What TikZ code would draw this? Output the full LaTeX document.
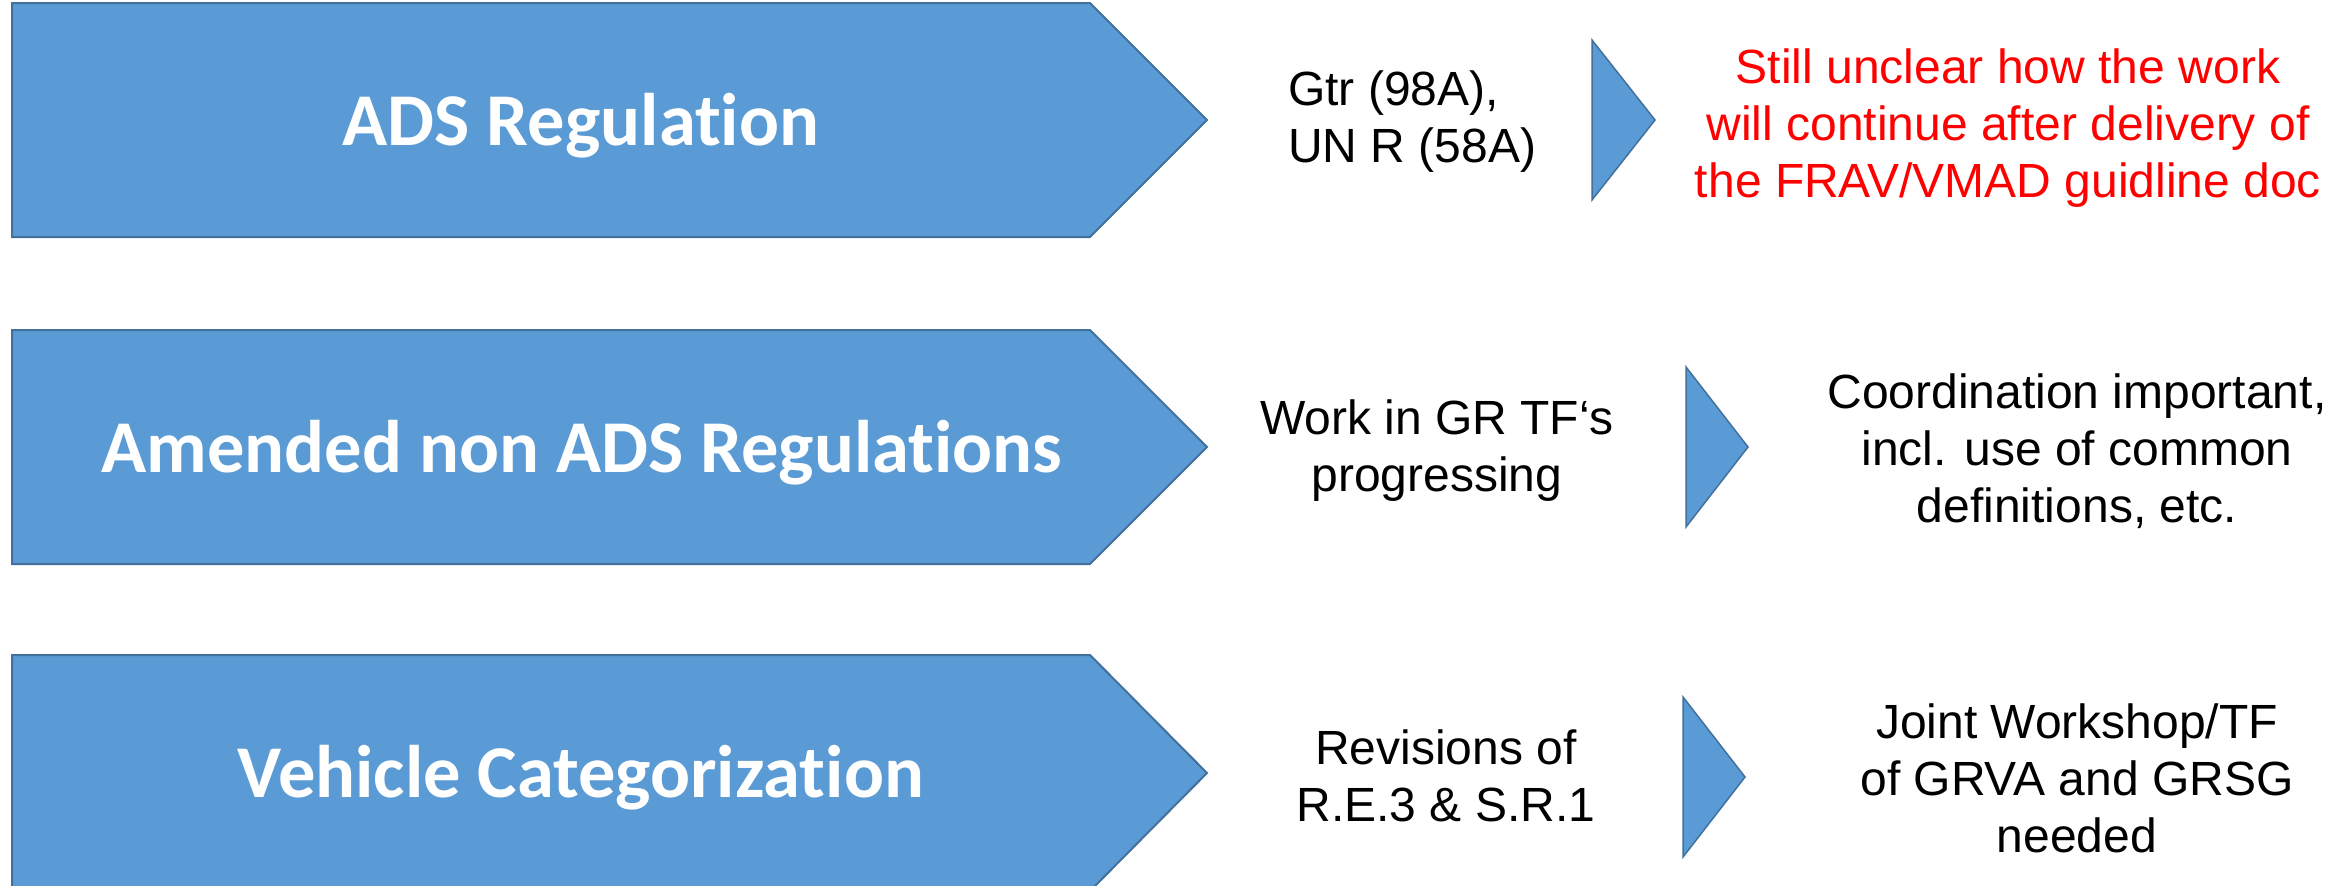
\documentclass[tikz,border=0pt]{standalone}
\usepackage{fontspec}
\setmainfont{Liberation Sans}
\newfontfamily\carlitofont[Ligatures={NoCommon,NoContextual,NoRare},Contextuals=NoAlternate]{Carlito}
\definecolor{boxblue}{HTML}{5B9BD5}
\definecolor{boxedge}{HTML}{41719C}
\definecolor{notered}{HTML}{FF0000}
\begin{document}
\begin{tikzpicture}[x=1pt,y=-1pt,
  bigarrow/.style={fill=boxblue,draw=boxedge,line width=2pt,line join=miter},
  smalltri/.style={fill=boxblue,draw=boxedge,line width=1.5pt,line join=miter},
  bigtext/.style={text=white,font=\carlitofont\bfseries\fontsize{74.5}{80}\selectfont,inner sep=0pt},
  midtext/.style={text=black,font=\fontsize{48}{57}\selectfont,inner sep=0pt},
  redtext/.style={text=notered,font=\fontsize{48}{57}\selectfont,inner sep=0pt,align=center}]
\clip (0,0) rectangle (2348,886);
\fill[white] (0,0) rectangle (2348,886);
% big arrows
\draw[bigarrow] (12,3) -- (1090,3) -- (1207,120) -- (1090,237) -- (12,237) -- cycle;
\draw[bigarrow] (12,330) -- (1090,330) -- (1207,447) -- (1090,564) -- (12,564) -- cycle;
\draw[bigarrow] (12,655) -- (1090,655) -- (1207,773) -- (1090,891) -- (12,891) -- cycle;
% small triangles
\draw[smalltri] (1592,40) -- (1655,120) -- (1592,200) -- cycle;
\draw[smalltri] (1686,367) -- (1748,447) -- (1686,527) -- cycle;
\draw[smalltri] (1683,697) -- (1745,777) -- (1683,857) -- cycle;
% big texts
\node[bigtext,anchor=base] (t1) at (581,145) {ADS Regulation};
\node[bigtext,anchor=base] (t2) at (582,472) {Amended non ADS Regulations};
\node[bigtext,anchor=base] (t3) at (581,797) {Vehicle Categorization};
% middle texts
\node[midtext,align=left,anchor=west] (m1) at (1288,122) {Gtr (98A),\\UN R (58A)};
\node[midtext,align=center] (m2) at (1437,451) {Work in GR TF‘s\\progressing};
\node[midtext,align=center] (m3) at (1446,776) {Revisions of\\R.E.3 \& S.R.1};
% right texts
\node[redtext] (r1) at (2008,128) {Still unclear how the work\\will continue after delivery of\\the FRAV/VMAD guidline doc};
\node[midtext,align=center] (r2) at (2077,451) {Coordination important,\\incl. use of common\\definitions, etc.};
\node[midtext,align=center] (r3) at (2077,778) {Joint Workshop/TF\\of GRVA and GRSG\\needed};
\end{tikzpicture}
\end{document}
